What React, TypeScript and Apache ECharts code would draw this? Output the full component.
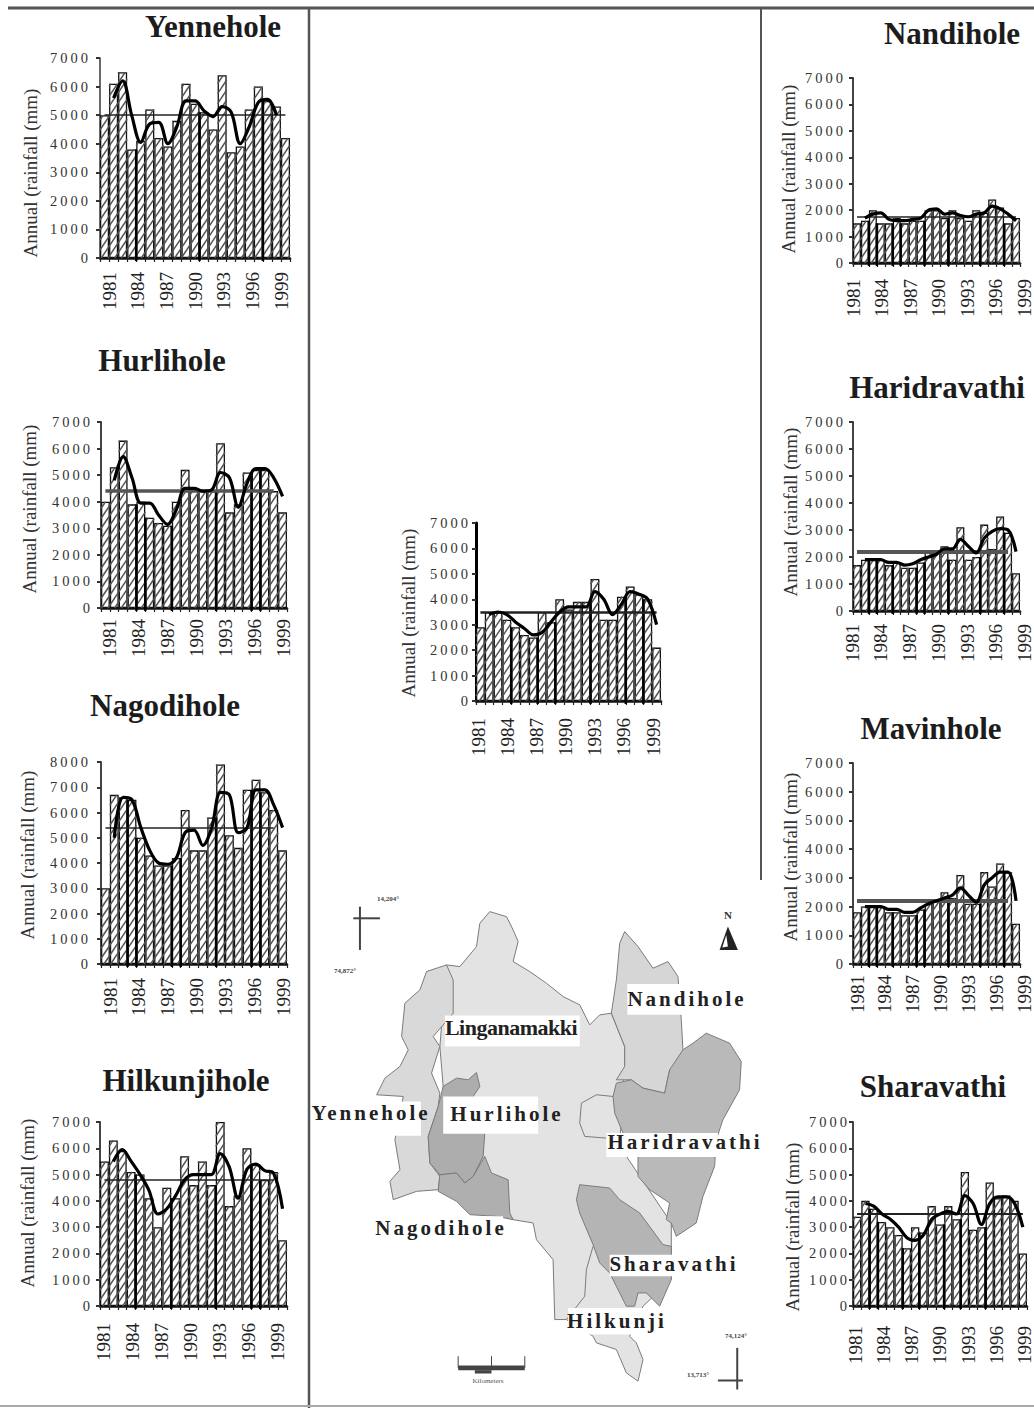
import React, { useEffect, useRef } from "react";
import * as echarts from "echarts";

const barSlots = ["1980","1981","1982","1983","1984","1985","1986","1987","1988","1989","1990","1991","1992","1993","1994","1995","1996","1997","1998","1999","2000"];
const yearTicks = ["1981","1982","1983","1984","1985","1986","1987","1988","1989","1990","1991","1992","1993","1994","1995","1996","1997","1998","1999"];
const axisTitle = "Annual (rainfall (mm)";

const yennehole = [5000,6100,6500,3800,4100,5200,4200,3900,4800,6100,5400,5100,4500,6400,3700,3900,5200,6000,5500,5300,4200];
const yennehole3 = [null,5600,6200,5000,4050,4700,4750,4000,4600,5500,5500,5150,4950,5300,5100,4000,4600,5450,5550,5000,null];
const hurlihole = [4000,5300,6300,3900,4000,3400,3200,3100,4000,5200,4500,4400,4400,6200,3600,3900,5100,5200,5200,4400,3600];
const hurlihole3 = [null,4800,5700,4900,3950,3950,3500,3150,3700,4500,4500,4400,4450,5100,4900,3800,4700,5250,5250,4900,4200];
const nagodihole = [3000,6700,6600,6500,5000,4300,3900,3900,4200,6100,4500,4500,5800,7900,5100,4600,6900,7300,6800,6100,4500];
const nagodihole3 = [null,5000,6600,6500,5400,4500,4000,3950,4200,5200,5300,4700,5400,6800,6700,5200,5400,6900,6900,6300,5400];
const hilkunjihole = [5500,6300,5900,5100,5000,4100,3000,4500,4100,5700,4600,5500,4600,7000,3800,4200,6000,5400,4800,5100,2500];
const hilkunjihole3 = [null,5500,5950,5500,5000,4400,3500,3700,4200,4800,5000,5000,5000,5800,5300,4100,5200,5400,5150,5050,3700];
const linganamakki = [2900,3500,3500,3200,2900,2600,2500,3500,3100,4000,3600,3900,3900,4800,3200,3200,4100,4500,4200,4000,2100];
const linganamakki3 = [null,3400,3500,3400,3100,2850,2600,2700,3100,3500,3700,3700,3700,4300,4000,3400,3800,4300,4200,4000,3000];
const nandihole = [1500,1600,2000,1500,1500,1700,1500,1600,1600,2000,2000,1700,2000,1700,1600,2000,1900,2400,2100,1500,1700];
const nandihole3 = [null,1700,1850,1900,1650,1600,1600,1650,1700,2000,2050,1850,1900,1800,1750,1850,1900,2150,2050,1850,1600];
const haridravathi = [1700,1900,1900,1900,1700,1800,1600,1600,1800,2200,2200,2400,1900,3100,1900,2000,3200,2300,3500,2900,1400];
const haridravathi3 = [null,1900,1900,1900,1800,1800,1700,1750,1900,2000,2100,2300,2300,2650,2400,2150,2700,2950,3050,3000,2200];
const mavinhole = [1800,2000,2000,2000,1800,1800,1700,1700,1900,2100,2200,2500,2300,3100,2100,2100,3200,2700,3500,3200,1400];
const mavinhole3 = [null,2000,2000,2000,1900,1900,1800,1800,1950,2100,2200,2300,2400,2650,2400,2150,2750,3000,3200,3200,2200];
const sharavathi = [3400,4000,3700,3200,3000,2700,2200,3000,2800,3800,3100,3800,3300,5100,2900,3000,4700,4100,4200,4000,2000];
const sharavathi3 = [null,3900,3800,3500,3300,3000,2600,2500,2700,3300,3500,3600,3500,4200,3900,3100,3900,4150,4150,3900,3000];

const panels = [
  { name: "Yennehole", bars: yennehole, line: yennehole3, mean: 5000, ymax: 7000, x0: 100, x1: 290, top: 58, bottom: 258, l0: 109, l1: 281, lm: 291, yr: 88, shift: 3.5, tx: 213, ty: 26, ax: 30, ay: 173, heavy: [4,11,18], mw: 1.5, m0: 0, m1: 20, axw: 1.6 },
  { name: "Hurlihole", bars: hurlihole, line: hurlihole3, mean: 4400, ymax: 7000, x0: 101, x1: 287, top: 422, bottom: 608, l0: 109, l1: 283, lm: 638, yr: 90, shift: 3.5, tx: 162, ty: 360, ax: 29, ay: 509, heavy: [4,5,8,13,17,18], mw: 3.5, m0: 0, m1: 19, axw: 2 },
  { name: "Nagodihole", bars: nagodihole, line: nagodihole3, mean: 5400, ymax: 8000, x0: 101, x1: 287, top: 762, bottom: 964, l0: 110, l1: 283, lm: 997, yr: 88, shift: -3, tx: 165, ty: 705, ax: 27, ay: 855, heavy: [3,4,8,9,13,17,18], mw: 1.5, m0: 0, m1: 19, axw: 2 },
  { name: "Hilkunjihole", bars: hilkunjihole, line: hilkunjihole3, mean: 4800, ymax: 7000, x0: 100, x1: 287, top: 1122, bottom: 1306, l0: 103, l1: 277, lm: 1342, yr: 90, shift: 2, tx: 186, ty: 1080, ax: 27, ay: 1203, heavy: [4,8,13,17,18], mw: 1.5, m0: 0, m1: 19, axw: 2 },
  { name: "", bars: linganamakki, line: linganamakki3, mean: 3500, ymax: 7000, x0: 476, x1: 661, top: 523, bottom: 701, l0: 478, l1: 653, lm: 737, yr: 468, shift: 3.5, tx: 0, ty: 0, ax: 408, ay: 613, heavy: [4,7,9,13,17,19], mw: 2.5, m0: 0, m1: 20, axw: 3 },
  { name: "Nandihole", bars: nandihole, line: nandihole3, mean: 1750, ymax: 7000, x0: 853, x1: 1020, top: 78, bottom: 263, l0: 853, l1: 1025, lm: 298, yr: 843, shift: 2, tx: 952, ty: 33, ax: 788, ay: 169, heavy: [2,3,5,6,9,12,16,19], mw: 1.5, m0: 0, m1: 20, axw: 2 },
  { name: "Haridravathi", bars: haridravathi, line: haridravathi3, mean: 2200, ymax: 7000, x0: 853, x1: 1020, top: 422, bottom: 611, l0: 852, l1: 1025, lm: 643, yr: 843, shift: 0, tx: 937, ty: 387, ax: 790, ay: 512, heavy: [2,3,5,8,9,12,16,19], mw: 4, m0: 0, m1: 19, axw: 2 },
  { name: "Mavinhole", bars: mavinhole, line: mavinhole3, mean: 2200, ymax: 7000, x0: 853, x1: 1020, top: 763, bottom: 964, l0: 857, l1: 1030, lm: 994, yr: 843, shift: 3, tx: 931, ty: 728, ax: 790, ay: 857, heavy: [2,3,5,8,9,12,16,19], mw: 4, m0: 0, m1: 19, axw: 2 },
  { name: "Sharavathi", bars: sharavathi, line: sharavathi3, mean: 3500, ymax: 7000, x0: 853, x1: 1027, top: 1122, bottom: 1306, l0: 855, l1: 1027, lm: 1345, yr: 847, shift: 5, tx: 933, ty: 1086, ax: 792, ay: 1227, heavy: [2,3,6,8,11,13,16], mw: 2, m0: 0, m1: 20, axw: 2 },
];

const basinOutline = [[410,255],[450,260],[500,200],[510,130],[540,95],[590,110],[610,150],[625,185],[610,245],[660,275],[710,310],[760,350],[810,375],[840,435],[870,405],[905,400],[945,500],[945,560],[930,800],[1085,1030],[1085,1200],[1000,1280],[960,1370],[980,1390],[1000,1440],[985,1505],[950,1480],[920,1410],[860,1390],[850,1370],[770,1320],[735,1320],[730,1140],[680,1080],[670,1030],[610,1020],[385,930],[400,620],[390,500]];
const yenneholeArea = [[410,255],[350,275],[330,330],[285,370],[275,470],[295,510],[270,560],[225,595],[200,645],[280,650],[255,780],[270,870],[240,905],[250,960],[320,935],[385,930],[390,890],[360,850],[355,770],[385,680],[390,640],[365,580],[390,500],[370,470],[430,400],[430,300]];
const nandiholeArea = [[945,155],[985,200],[1030,265],[1075,245],[1105,290],[1115,420],[1120,510],[1110,545],[1080,570],[1065,640],[1000,625],[965,600],[920,600],[945,560],[945,500],[905,400],[920,300],[930,190]];
const haridravathiArea = [[1190,460],[1260,490],[1295,545],[1290,630],[1240,720],[1220,780],[1215,860],[1180,950],[1160,1030],[1100,1070],[1085,1030],[1070,1020],[1080,970],[1020,930],[985,890],[985,830],[940,760],[915,700],[910,650],[920,610],[965,600],[1000,625],[1065,640],[1080,570],[1120,510],[1150,490]];
const sharavathiArea = [[810,915],[900,925],[930,960],[990,1000],[1060,1095],[1085,1100],[1085,1200],[1050,1280],[1010,1240],[985,1240],[975,1280],[950,1280],[900,1180],[870,1150],[850,1095],[810,1000],[800,960]];
const hurliholeArea = [[500,578],[510,620],[490,650],[525,760],[520,830],[490,890],[465,910],[440,880],[390,885],[360,850],[355,770],[385,680],[400,620],[440,595],[475,600]];
const nagodiholeArea = [[390,885],[440,880],[465,910],[490,890],[525,830],[545,880],[595,900],[600,1000],[610,1020],[560,1010],[480,1005],[440,965],[385,935]];
const lobeEdge = [[910,650],[860,645],[815,670],[810,730],[825,770],[890,775]];
const hilkunjiEdge = [[850,1100],[830,1170],[825,1250],[770,1320]];

const mapLabels = [
  { text: "Nandihole", x: 687, y: 999, box: [953,312,1130,405] },
  { text: "Linganamakki", x: 511, y: 1027, box: [405,407,810,500], tight: true },
  { text: "Yennehole", x: 371, y: 1113, box: [0,665,333,768] },
  { text: "Hurlihole", x: 507, y: 1114, box: [400,650,685,762] },
  { text: "Haridravathi", x: 685, y: 1142, box: [890,760,1225,832] },
  { text: "Nagodihole", x: 441, y: 1228, box: [480,1010,580,1050] },
  { text: "Sharavathi", x: 674, y: 1264, box: [900,1125,1220,1190] },
  { text: "Hilkunji", x: 617, y: 1321, box: [775,1285,1010,1365] },
];
const coordLabels = [
  { text: "14,204°", x: 388, y: 899 },
  { text: "74,872°", x: 345, y: 971 },
  { text: "74,124°", x: 736, y: 1336 },
  { text: "13,713°", x: 698, y: 1375 },
];

const serif = "'Liberation Serif'";
const sheetCss = `
#root svg text[style*="14.5px"]{letter-spacing:3px}
#root svg text[style*="21px"]{letter-spacing:3px}
#root svg text[style*="22px"]{letter-spacing:-0.5px}
`;

const HATCH_SLOPE = 1.5;
const HATCH_STEP = 10;

function hatchItem(_: any, api: any) {
  const half = api.size([1, 0])[0] / 2;
  const bot = api.coord([api.value(0), 0]);
  const tip = api.coord([api.value(0), api.value(1)]);
  const x0 = bot[0] - half, x1 = bot[0] + half, y0 = tip[1], y1 = bot[1];
  const children: any[] = [];
  const first = Math.ceil((HATCH_SLOPE * x0 + y0) / HATCH_STEP) * HATCH_STEP;
  const last = HATCH_SLOPE * x1 + y1;
  for (let c = first; c <= last; c += HATCH_STEP) {
    const xa = Math.max(x0, (c - y1) / HATCH_SLOPE);
    const xb = Math.min(x1, (c - y0) / HATCH_SLOPE);
    if (xb <= xa) continue;
    children.push({ type: "line", shape: { x1: xa, y1: c - HATCH_SLOPE * xa, x2: xb, y2: c - HATCH_SLOPE * xb }, style: { stroke: "#555", lineWidth: 1.5 } });
  }
  return { type: "group", children };
}

function buildOption() {
  const grid: any[] = [], xAxis: any[] = [], yAxis: any[] = [], series: any[] = [], title: any[] = [], graphic: any[] = [];
  panels.forEach((p, i) => {
    const g = i * 2;
    const height = p.bottom - p.top;
    grid.push({ left: p.x0, width: p.x1 - p.x0, top: p.top, height });
    grid.push({ left: p.l0, width: p.l1 - p.l0, top: p.top, height });
    xAxis.push({
      type: "category", gridIndex: g, data: barSlots,
      axisLine: { lineStyle: { color: "#111", width: 2.5 } },
      axisTick: { show: true, length: 4, interval: 0, lineStyle: { color: "#222", width: 1.2 } },
      axisLabel: { show: false },
    });
    xAxis.push({
      type: "category", gridIndex: g + 1, data: yearTicks, boundaryGap: false,
      axisLine: { show: false }, axisTick: { show: false },
      axisLabel: { interval: 2, rotate: 90, margin: Math.max(0, p.lm - 19 - p.bottom), fontFamily: serif, fontSize: 19, color: "#222" },
    });
    const pad = p.shift >= 0 ? [p.shift * 2, 0, 0, 0] : [0, 0, -p.shift * 2, 0];
    yAxis.push({
      type: "value", gridIndex: g, min: 0, max: p.ymax, interval: 1000,
      axisLine: { show: true, lineStyle: { color: i === 4 ? "#000" : "#444", width: p.axw } },
      axisTick: { show: true, length: 4, lineStyle: { color: "#333", width: 2 } },
      splitLine: { show: false },
      axisLabel: { margin: Math.max(2, p.x0 - p.yr - 3), fontFamily: serif, fontSize: 14.5, color: "#333", padding: pad, formatter: (v: number) => String(v) },
    });
    yAxis.push({ type: "value", gridIndex: g + 1, show: false });
    series.push({
      type: "bar", xAxisIndex: g, yAxisIndex: g, data: p.bars, barWidth: "100%", barGap: 0, z: 2,
      itemStyle: { color: "#fff", borderColor: "#111", borderWidth: 1.3 },
    });
    series.push({
      type: "custom", xAxisIndex: g, yAxisIndex: g, z: 3, silent: true,
      data: p.bars.map((v, n) => [n, v]),
      encode: { x: 0, y: 1 },
      renderItem: hatchItem,
    });
    series.push({
      type: "custom", xAxisIndex: g, yAxisIndex: g, z: 4, silent: true,
      data: p.heavy.map((n) => [n - 1, Math.min(p.bars[n - 1], p.bars[n] ?? p.bars[n - 1])]),
      encode: { x: 0, y: 1 },
      renderItem: (_: any, api: any) => {
        const base = api.coord([api.value(0), 0]);
        const tip = api.coord([api.value(0), api.value(1)]);
        const half = api.size([1, 0])[0] / 2;
        return { type: "line", shape: { x1: base[0] + half, y1: base[1] + 3, x2: base[0] + half, y2: tip[1] }, style: { stroke: "#000", lineWidth: 2.4 } };
      },
    });
    series.push({
      type: "line", xAxisIndex: g, yAxisIndex: g, data: p.line, smooth: 0.35, showSymbol: false, z: 6,
      lineStyle: { color: "#000", width: 3.2 },
      markLine: {
        silent: true, symbol: "none", label: { show: false }, z: 5,
        lineStyle: { color: p.mw > 3 ? "#555" : "#222", width: p.mw, type: "solid" },
        data: [[{ coord: [barSlots[p.m0], p.mean] }, { coord: [barSlots[p.m1], p.mean] }]],
      },
    });
    if (p.name) {
      title.push({ text: p.name, left: p.tx, top: p.ty, textAlign: "center", textVerticalAlign: "middle", padding: 0, textStyle: { fontFamily: serif, fontWeight: "bold", fontSize: 31, color: "#1c1c1c" } });
    }
    graphic.push({ type: "text", x: p.ax, y: p.ay, rotation: Math.PI / 2, style: { text: axisTitle, fontFamily: serif, fontSize: 19, fill: "#333", textAlign: "center", textVerticalAlign: "middle" } });
  });

  const area = (points: number[][], fill: string) => ({ type: "polygon", shape: { points }, style: { fill, stroke: "#7a7a7a", lineWidth: 3 } });
  const edge = (points: number[][]) => ({ type: "polyline", shape: { points }, style: { fill: "none", stroke: "#7a7a7a", lineWidth: 3 } });
  const stroke = (a: number, b: number, c: number, d: number, w: number) => ({ type: "line", shape: { x1: a, y1: b, x2: c, y2: d }, style: { stroke: "#444", lineWidth: w } });

  graphic.push({
    type: "group", x: 310, y: 880, scaleX: 1 / 3, scaleY: 1 / 3,
    children: [
      area(basinOutline, "#e3e3e3"),
      area(yenneholeArea, "#d9d9d9"),
      area(nandiholeArea, "#d6d6d6"),
      area(haridravathiArea, "#b9b9b9"),
      area(sharavathiArea, "#b4b4b4"),
      area(hurliholeArea, "#adadad"),
      area(nagodiholeArea, "#afafaf"),
      edge(lobeEdge),
      edge(hilkunjiEdge),
      stroke(150, 80, 150, 210, 6),
      stroke(130, 115, 210, 115, 6),
      stroke(1283, 1405, 1283, 1530, 6),
      stroke(1225, 1503, 1300, 1503, 6),
      stroke(445, 1465, 645, 1465, 14),
      stroke(445, 1430, 445, 1465, 3),
      stroke(545, 1430, 545, 1465, 3),
      stroke(645, 1430, 645, 1465, 3),
      stroke(495, 1477, 545, 1477, 10),
      { type: "polygon", shape: { points: [[1255, 140], [1285, 210], [1230, 210]] }, style: { fill: "#222" } },
      { type: "polygon", shape: { points: [[1250, 165], [1255, 200], [1238, 203]] }, style: { fill: "#fff" } },
      ...mapLabels.map((m) => ({ type: "rect", shape: { x: m.box[0], y: m.box[1], width: m.box[2] - m.box[0], height: m.box[3] - m.box[1] }, style: { fill: "#fff" } })),
    ],
  });
  mapLabels.forEach((m) => {
    graphic.push({ type: "text", x: m.x, y: m.y, style: { text: m.text, fontFamily: serif, fontWeight: "bold", fontSize: m.tight ? 22 : 21, fill: "#222", textAlign: "center", textVerticalAlign: "middle" } });
  });
  coordLabels.forEach((c) => {
    graphic.push({ type: "text", x: c.x, y: c.y, style: { text: c.text, fontFamily: serif, fontWeight: "bold", fontSize: 7, fill: "#444", textAlign: "center", textVerticalAlign: "middle" } });
  });
  graphic.push({ type: "text", x: 728, y: 915, style: { text: "N", fontFamily: serif, fontWeight: "bold", fontSize: 11, fill: "#333", textAlign: "center", textVerticalAlign: "middle" } });
  graphic.push({ type: "text", x: 488, y: 1381, style: { text: "Kilometers", fontFamily: serif, fontSize: 7, fill: "#555", textAlign: "center", textVerticalAlign: "middle" } });

  const rule = (a: number, b: number, c: number, d: number, w: number, col: string) => ({ type: "line", shape: { x1: a, y1: b, x2: c, y2: d }, style: { stroke: col, lineWidth: w } });
  graphic.push(rule(8, 8, 1034, 8, 3, "#555"));
  graphic.push(rule(309, 8, 309, 1408, 2.5, "#555"));
  graphic.push(rule(761, 8, 761, 880, 2, "#555"));
  graphic.push(rule(0, 1406, 1034, 1406, 2, "#aaa"));

  return { animation: false, backgroundColor: "#fff", grid, xAxis, yAxis, series, title, graphic };
}

export default function App() {
  const ref = useRef<HTMLDivElement>(null);
  useEffect(() => {
    const chart = echarts.init(ref.current!, null, { renderer: "svg" });
    chart.setOption(buildOption() as any);
    return () => chart.dispose();
  }, []);
  return (
    <>
      <style>{sheetCss}</style>
      <div ref={ref} style={{ position: "fixed", left: 0, top: 0, width: 1034, height: 1408 }} />
    </>
  );
}
